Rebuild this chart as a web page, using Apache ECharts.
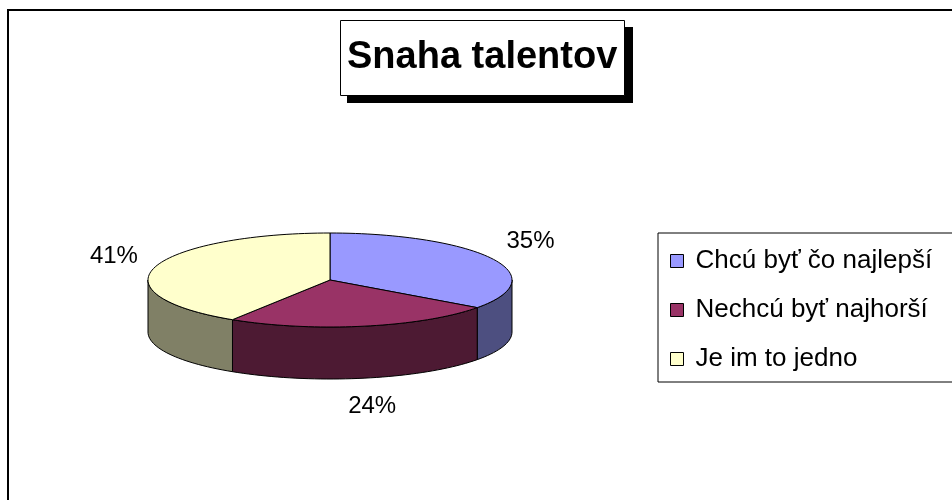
<!DOCTYPE html>
<html>
<head>
<meta charset="utf-8">
<script src="https://cdn.jsdelivr.net/npm/echarts@6/dist/echarts.min.js"></script>
<style>
  html, body { margin: 0; padding: 0; background: #fff; }
  #chart { width: 952px; height: 500px; }
</style>
</head>
<body>
<div id="chart"></div>
<script>
const categories = ["Chcú byť čo najlepší", "Nechcú byť najhorší", "Je im to jedno"];
const values = [35, 24, 41];
const topColors = ["#9999FF", "#993366", "#FFFFCC"];
const sideColors = ["#4D4F80", "#4D1A33", "#808066"];

// geometry of the tilted pie
const CX = 330, CY = 280, RX = 182, RY = 47, DEPTH = 52;
const FONT = "'Liberation Sans', Arial, sans-serif";

const total = values.reduce((a, b) => a + b, 0);
const starts = [];
let acc = 0;
values.forEach((v) => { starts.push(acc / total * 360); acc += v; });

function pt(deg, dy) {
  const r = deg * Math.PI / 180;
  return [CX + RX * Math.sin(r), CY - RY * Math.cos(r) + dy];
}
function arc(a, b, dy) {
  const n = Math.max(2, Math.ceil((b - a) / 2));
  const pts = [];
  for (let k = 0; k <= n; k++) pts.push(pt(a + (b - a) * k / n, dy));
  return pts;
}

function renderSlice(params, api) {
  const i = params.seriesIndex;
  const v = api.value(0);
  const start = starts[i];
  const end = start + v / total * 360;
  const children = [];
  // front wall, only the half facing the viewer
  const a = Math.max(start, 90), b = Math.min(end, 270);
  if (b > a) {
    children.push({
      type: "polygon",
      z2: 1,
      shape: { points: arc(a, b, 0).concat(arc(a, b, DEPTH).reverse()) },
      style: { fill: sideColors[i], stroke: "#000", lineWidth: 1 }
    });
  }
  children.push({
    type: "polygon",
    z2: 10,
    shape: { points: [[CX, CY]].concat(arc(start, end, 0)) },
    style: { fill: topColors[i], stroke: "#000", lineWidth: 1 }
  });
  // percentage label outside the rim
  const mid = (start + end) / 2 * Math.PI / 180;
  const s = Math.sin(mid), c = Math.cos(mid);
  const lx = CX + (RX + 43) * s;
  const ly = CY - (RY + 39) * c + (c < 0 ? DEPTH - 10 : 0);
  children.push({
    type: "text",
    z2: 20,
    x: lx,
    y: ly,
    style: {
      text: Math.round(v / total * 100) + "%",
      fill: "#000",
      font: "24px " + FONT,
      align: "center",
      verticalAlign: "middle"
    }
  });
  return { type: "group", children: children };
}

const chart = echarts.init(document.getElementById("chart"));
chart.setOption({
  animation: false,
  backgroundColor: "#fff",
  title: {
    text: "Snaha talentov",
    left: 340,
    top: 20,
    padding: [19, 7],
    backgroundColor: "#fff",
    borderColor: "#000",
    borderWidth: 1,
    textStyle: {
      fontFamily: FONT,
      fontSize: 38,
      fontWeight: "bold",
      color: "#000",
      lineHeight: 38
    }
  },
  legend: {
    orient: "vertical",
    left: 658,
    top: 233,
    padding: [15, 40, 10, 12],
    itemWidth: 13,
    itemHeight: 13,
    itemGap: 23,
    icon: "rect",
    borderColor: "#000",
    borderWidth: 1,
    backgroundColor: "#fff",
    selectedMode: false,
    data: categories,
    itemStyle: { borderColor: "#000", borderWidth: 1 },
    textStyle: {
      fontFamily: FONT,
      fontSize: 26,
      color: "#000",
      padding: [0, 0, 0, 7]
    }
  },
  graphic: [
    {
      type: "rect",
      silent: true,
      z: -1,
      shape: { x: 8, y: 10, width: 1000, height: 1000 },
      style: { fill: "none", stroke: "#000", lineWidth: 2 }
    },
    {
      // drop shadow of the title box
      type: "rect",
      silent: true,
      z: 0,
      shape: { x: 347, y: 27, width: 286, height: 76 },
      style: { fill: "#000" }
    }
  ],
  series: categories.map((name, i) => ({
    type: "custom",
    name: name,
    coordinateSystem: "none",
    silent: true,
    itemStyle: { color: topColors[i], borderColor: "#000", borderWidth: 1 },
    renderItem: renderSlice,
    data: [[values[i]]]
  }))
});
</script>
</body>
</html>
